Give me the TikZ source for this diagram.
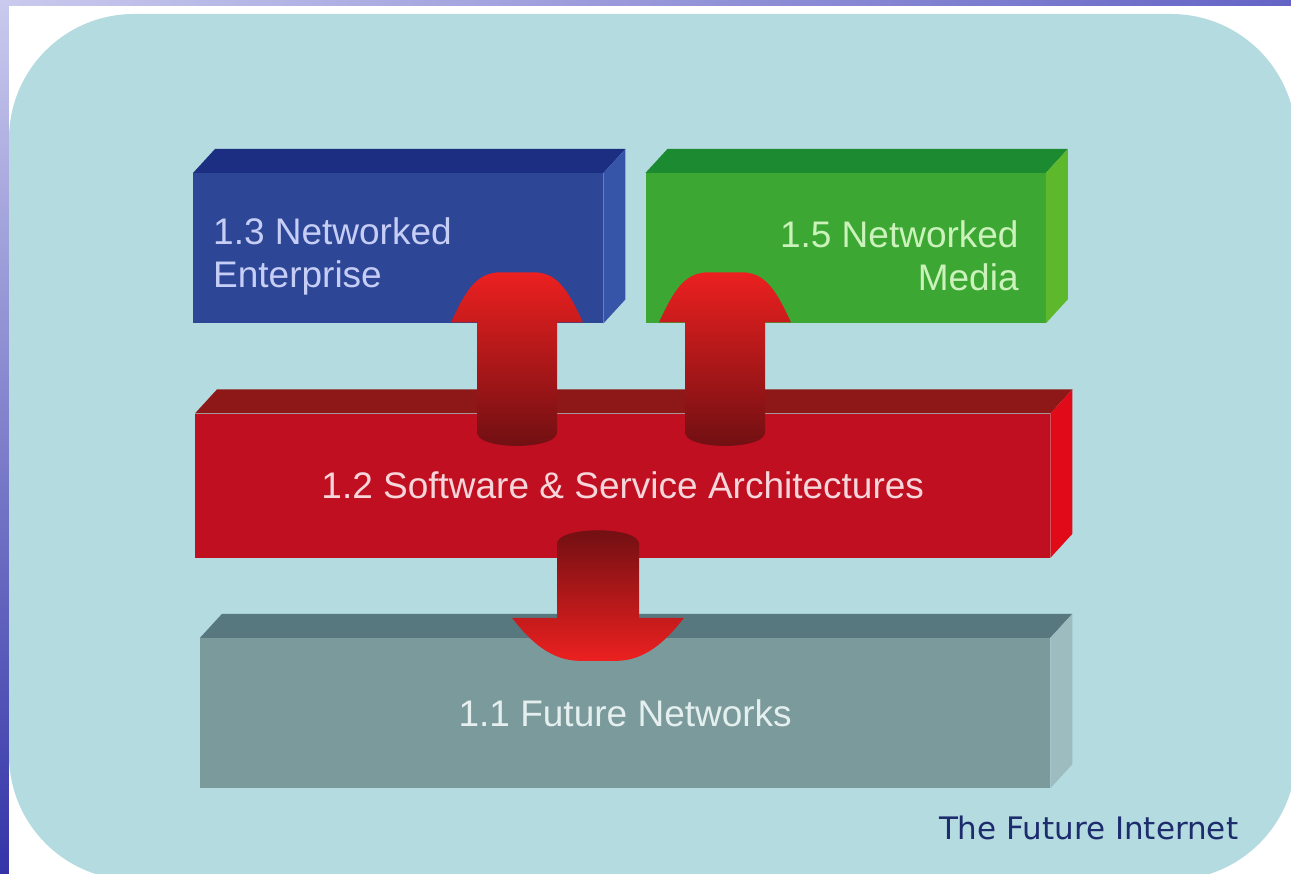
\documentclass[tikz,border=0pt]{standalone}
\usepackage{fontspec}
\setmainfont{Liberation Sans}
\newfontfamily\captionfont{DejaVu Sans}
\usepackage{tikz}
\usetikzlibrary{positioning, calc}

\definecolor{framelight}{HTML}{CACAEE}
\definecolor{framemid}{HTML}{6464C6}
\definecolor{framedark}{HTML}{3434A8}
\definecolor{panelblue}{HTML}{B3DBE0}
\definecolor{entfront}{HTML}{2D4696}
\definecolor{enttop}{HTML}{1B2E82}
\definecolor{entside}{HTML}{3654A8}
\definecolor{enttext}{HTML}{C6CEF6}
\definecolor{medfront}{HTML}{3CA833}
\definecolor{medtop}{HTML}{1C8A30}
\definecolor{medside}{HTML}{5EB82C}
\definecolor{medtext}{HTML}{CCF2BC}
\definecolor{softfront}{HTML}{BF0F20}
\definecolor{softtop}{HTML}{8E1818}
\definecolor{softside}{HTML}{E00A18}
\definecolor{softtext}{HTML}{F6D6DA}
\definecolor{netfront}{HTML}{7B9A9B}
\definecolor{nettop}{HTML}{587880}
\definecolor{netside}{HTML}{9CBCBF}
\definecolor{nettext}{HTML}{E6EFEF}
\definecolor{arrowhi}{HTML}{EC2020}
\definecolor{arrowmid}{HTML}{E21C1C}
\definecolor{arrowlo}{HTML}{6E0F12}
\definecolor{captiontext}{HTML}{1C2C6C}

\tikzstyle{face} = [rectangle, inner sep=0pt, minimum height=150pt]
\tikzstyle{blocktext} = [inner sep=0pt, font=\fontsize{37}{43}\selectfont]
\tikzstyle{enterprisebox} = [face, minimum width=410pt, fill=entfront]
\tikzstyle{mediabox} = [face, minimum width=400pt, fill=medfront]
\tikzstyle{softwarebox} = [face, blocktext, minimum width=855pt, minimum height=144pt, fill=softfront, text=softtext]
\tikzstyle{networkbox} = [face, blocktext, minimum width=850pt, fill=netfront, text=nettext]
\tikzstyle{uparrow} = [top color=arrowhi, middle color=arrowmid, bottom color=arrowlo]
\tikzstyle{downarrow} = [top color=arrowlo, middle color=arrowmid, bottom color=arrowhi]

% top and right faces of a block
\newcommand{\cubefaces}[3]{%
  \fill[#2] (#1.north west) -- ++(22,-24) -- ($(#1.north east)+(22,-24)$) -- (#1.north east) -- cycle;
  \fill[#3] (#1.north east) -- ++(22,-24) -- ($(#1.south east)+(22,-24)$) -- (#1.south east) -- cycle;}
% fat arrows, drawn round their foot
\newcommand{\liftarrow}[1]{%
  \shade[uparrow, shift={(#1)}] (-40,-8) .. controls (-40,10) and (40,10) .. (40,-8) -- (40,-118)
    -- (66,-118) .. controls (52,-148) and (42,-166) .. (20,-168) -- (-20,-168) .. controls (-42,-166) and (-52,-148) .. (-66,-118)
    -- (-40,-118) -- cycle;}
\newcommand{\droparrow}[1]{%
  \shade[downarrow, shift={(#1)}] (-41,8) .. controls (-41,-10) and (41,-10) .. (41,8) -- (41,82)
    -- (86,82) .. controls (66,108) and (46,124) .. (20,125) -- (-20,125) .. controls (-46,124) and (-66,108) .. (-86,82)
    -- (-41,82) -- cycle;}

\begin{document}
\begin{tikzpicture}[x=1pt, y=-1pt]
\useasboundingbox (0,0) rectangle (1291,874);
\clip (0,0) rectangle (1291,874);

% slide frame and panel
\shade[top color=framelight, bottom color=framedark] (0,0) rectangle (9,874);
\shade[left color=framelight, right color=framemid] (0,0) rectangle (1291,6);
\fill[white] (9,6) rectangle (1291,874);
\fill[panelblue, rounded corners=125pt] (9,14) rectangle (1296,880);

% blocks
\node (enterprise) [enterprisebox, anchor=north west] at (193,173) {};
\node (media) [mediabox, right=42pt of enterprise] {};
\node (software) [softwarebox, below=90pt of enterprise.south west, anchor=north west, xshift=2pt] {1.2 Software \& Service Architectures};
\node (networks) [networkbox, below=80pt of software.south west, anchor=north west, xshift=5pt] {1.1 Future Networks};

\cubefaces{enterprise}{enttop}{entside}
\cubefaces{media}{medtop}{medside}
\cubefaces{software}{softtop}{softside}
\cubefaces{networks}{nettop}{netside}

\node (enterprisetext) [blocktext, text=enttext, align=left, right=20pt of enterprise.west, yshift=-8pt] {1.3 Networked\\Enterprise};
\node (mediatext) [blocktext, text=medtext, align=right, left=27pt of media.east, yshift=-8pt] {1.5 Networked\\Media};

% arrows between the layers
\coordinate (feedA) at ($(software.north west)+(322,27)$);
\coordinate (feedB) at ($(software.north west)+(530,27)$);
\coordinate (feedC) at ($(software.south west)+(403,-22)$);
\liftarrow{feedA}
\liftarrow{feedB}
\droparrow{feedC}

\node (caption) [below=51pt of networks.south east, anchor=base east, xshift=188pt, inner sep=0pt, text=captiontext, font=\captionfont\fontsize{31}{36}\selectfont] {The Future Internet};
\end{tikzpicture}
\end{document}
